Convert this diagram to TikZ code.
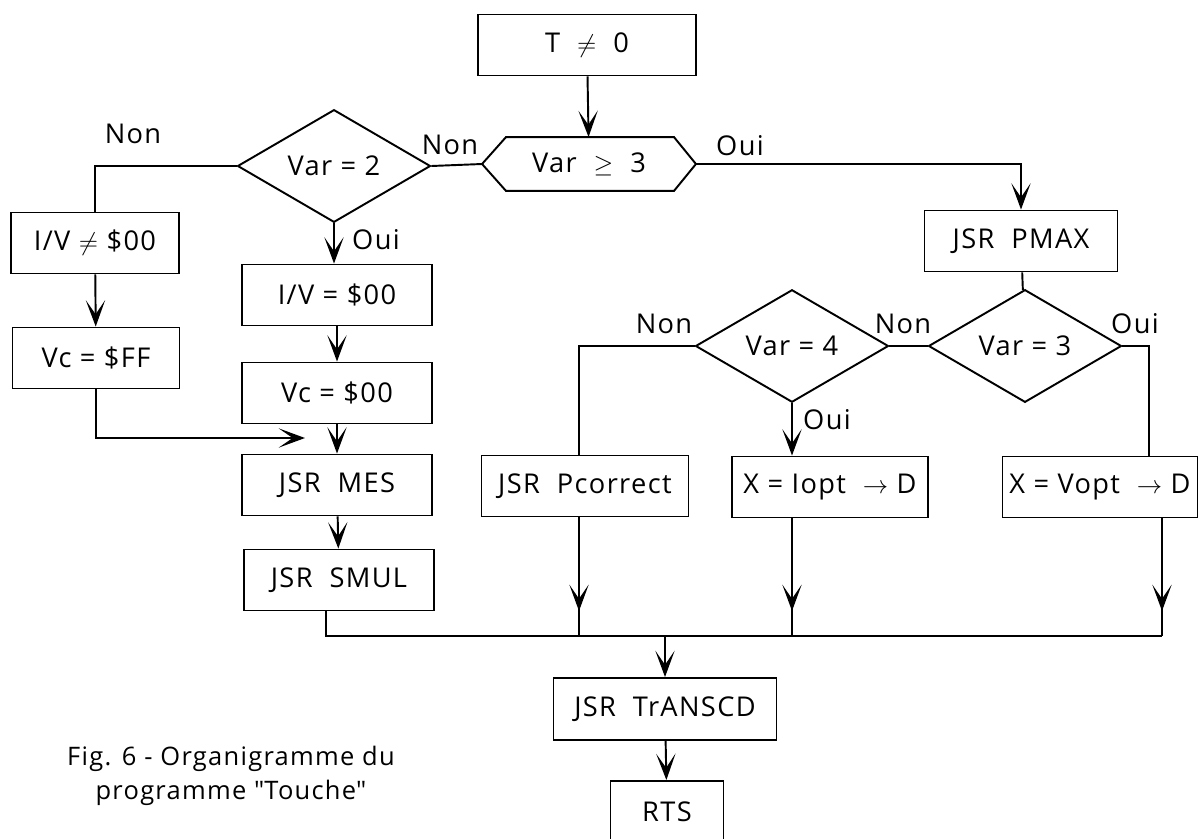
\documentclass[tikz,border=0pt]{standalone}
\usepackage{fontspec}
\setmainfont{Open Sans}[LetterSpace=5]
\usepackage{amsmath}
\usepackage{amssymb}
\usepackage{tikz}
\usetikzlibrary{
	arrows.meta,
	calc,
	shapes.geometric
}
\tikzset{
	texte/.style={font=\fontsize{15.5}{18}\selectfont},
	boite/.style={draw, rectangle, texte, minimum height=1.22cm, inner sep=2pt},
	losange/.style={draw, diamond, texte, inner sep=0pt, minimum width=3.86cm, minimum height=1.56cm}
}

\begin{document}
\begin{tikzpicture}[x=0.02cm, y=-0.02cm, line width=1.1pt, >={Stealth[length=15pt, width=11pt, inset=8pt]}]
		\useasboundingbox (0,0) rectangle (1201,839);
		\clip (0,0) rectangle (1201,839);
		
		% 上部
		\node[boite, minimum width=4.36cm] (t0) at (587,45) {T\ \ $\neq$\ \ 0};
		\node[texte, inner sep=0pt, minimum width=4.24cm, minimum height=1.04cm] (vsup) at (589,164) {Var\ \ $\geq$\ \ 3};
		\draw (vsup.west) -- ($(vsup.north west)+(24,0)$) -- ($(vsup.north east)+(-22,0)$) -- (vsup.east)
			-- ($(vsup.south east)+(-22,0)$) -- ($(vsup.south west)+(24,0)$) -- cycle;
		
		% 左边
		\node[losange] (v2) at (334,166) {Var = 2};
		\node[boite, minimum width=3.36cm] (ivn) at (95,243) {I/V $\neq$ \$00};
		\node[boite, minimum width=3.34cm] (vff) at (96,358) {Vc = \$FF};
		\node[boite, minimum width=3.8cm] (iv0) at (337,295) {I/V = \$00};
		\node[boite, minimum width=3.8cm] (vc0) at (337,393) {Vc = \$00};
		\node[boite, minimum width=3.8cm] (mes) at (337,485) {JSR\ \ MES};
		\node[boite, minimum width=3.8cm] (smul) at (339,580) {JSR\ \ SMUL};
		
		% 右边
		\node[boite, minimum width=3.86cm] (pmax) at (1021,241) {JSR\ \ PMAX};
		\node[losange] (v4) at (792,346) {Var = 4};
		\node[losange] (v3) at (1025,346) {Var = 3};
		\node[boite, minimum width=4.14cm] (pcor) at (585,486) {JSR\ \ Pcorrect};
		\node[boite, minimum width=3.92cm] (iopt) at (830,487) {X = Iopt\ \ $\rightarrow$ D};
		\node[boite, minimum width=3.9cm] (vopt) at (1100,487) {X = Vopt\ \ $\rightarrow$ D};
		
		% 下部
		\node[boite, minimum width=4.46cm, minimum height=1.24cm] (trans) at (665,709) {JSR\ \ TrANSCD};
		\node[boite, minimum width=2.26cm, minimum height=1.24cm] (rts) at (667,812) {RTS};
		\node[texte, align=center, font=\fontsize{14.5}{19}\selectfont] (legende) at (231,776) {Fig. 6 - Organigramme du\\programme \textquotedbl Touche\textquotedbl};
		
		% 标签
		\node[texte] (non1) at (133,134) {Non};
		\node[texte] (non2) at (450,145) {Non};
		\node[texte] (oui1) at (740,146) {Oui};
		\node[texte] (oui2) at (376,240) {Oui};
		\node[texte] (non3) at (664,324) {Non};
		\node[texte] (non4) at (903,324) {Non};
		\node[texte] (oui3) at (1135,324) {Oui};
		\node[texte] (oui4) at (827,420) {Oui};
		
		\coordinate (jonc) at (305,438);
		\coordinate (bas) at (1162,636);
		
		% 连线
		\draw[->] (t0) -- (vsup);
		\draw (vsup.west) -- (v2.east);
		\draw[->] (vsup.east) -| (pmax.north);
		\draw (v2.west) -| (ivn.north);
		\draw[->] (ivn) -- (vff);
		\draw[->] (v2.south) -- (v2.south |- iv0.north);
		\draw[->] (iv0) -- (vc0);
		\draw[->] (vc0) -- (mes);
		\draw[->] (mes) -- (smul);
		\draw[->] (vff.south) |- (jonc);
		\draw ($(smul.south)+(-13,0)$) |- (bas);
		
		\draw (pmax) -- (v3);
		\draw (v3.west) -- (v4.east);
		\draw (v4.west) -| ($(pcor.north)+(-6,0)$);
		\draw[->] (v4.south) -- (v4.south |- iopt.north);
		\draw (v3.east) -| ($(vopt.north)+(49,0)$);
		
		\draw ($(pcor.south)+(-6,0)$) -- ($(pcor.south |- bas)+(-6,0)$);
		\draw[->] ($(pcor.south)+(-6,0)$) -- ($(pcor.south |- bas)+(-6,-25)$);
		\draw (v4.south |- iopt.south) -- (v4.south |- bas);
		\draw[->] (v4.south |- iopt.south) -- ($(v4.south |- bas)+(0,-25)$);
		\draw (bas |- vopt.south) -- (bas);
		\draw[->] (bas |- vopt.south) -- ($(bas)+(0,-25)$);
		
		\draw[->] (trans.north |- bas) -- (trans.north);
		\draw[->] (trans) -- (rts);
	\end{tikzpicture}
\end{document}
